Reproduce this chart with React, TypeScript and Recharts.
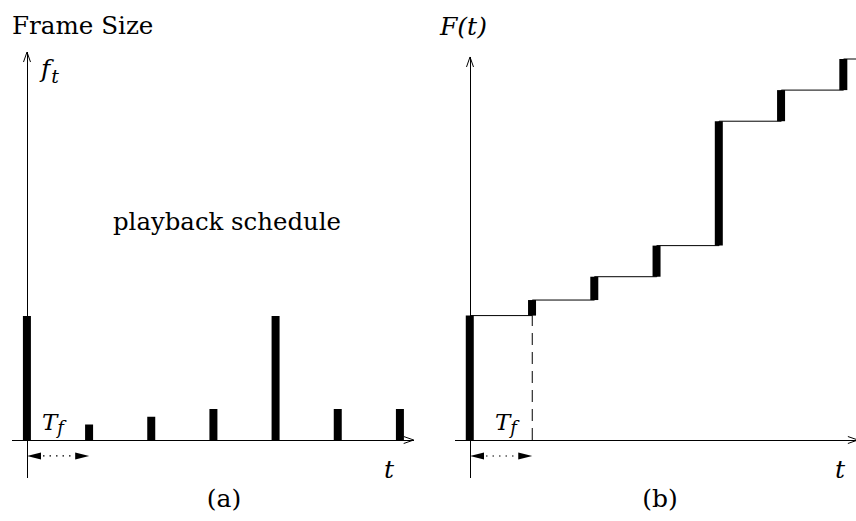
import { BarChart, ComposedChart, Bar, Line, XAxis, YAxis, ReferenceLine } from "recharts";

// frame index t (one tick = one frame period T_f)
const frameIndex = [0, 1, 2, 3, 4, 5, 6];
// playback schedule f_t: size of each frame
const frameSizes = [8, 1, 1.5, 2, 8, 2, 2];
// cumulative consumption F(t)
const cumulativeSizes = [8, 9, 10.5, 12.5, 20.5, 22.5, 24.5];
// F(t) stays flat after the last frame until the edge of the plot
const tailTime = 6.2;

const INK = "#000";
const textStyle = { fontFamily: "'DejaVu Serif', serif", fill: INK } as const;
const italicStyle = { ...textStyle, fontStyle: "italic" } as const;

const scheduleData = frameIndex.map((t, i) => ({ t, size: frameSizes[i] }));

const cumulativeData = [
    ...frameIndex.map((t, i) => ({
        t,
        F: cumulativeSizes[i],
        range: [i === 0 ? 0 : cumulativeSizes[i - 1], cumulativeSizes[i]],
    })),
    {
        t: tailTime,
        F: cumulativeSizes[cumulativeSizes.length - 1],
        range: [cumulativeSizes[cumulativeSizes.length - 1], cumulativeSizes[cumulativeSizes.length - 1]],
    },
];

// axis line with an open arrow head at its end
function AxisArrow(props: any) {
    const { x1, y1, x2, y2 } = props;
    const dx = x2 - x1;
    const dy = y2 - y1;
    const len = Math.hypot(dx, dy) || 1;
    const ux = dx / len;
    const uy = dy / len;
    const head = 10;
    const half = 3.5;
    const bx = x2 - ux * head;
    const by = y2 - uy * head;
    const px = -uy * half;
    const py = ux * half;
    return (
        <g>
            <line x1={x1} y1={y1} x2={x2} y2={y2} stroke={INK} strokeWidth={1} shapeRendering="crispEdges" />
            <polyline
                points={`${bx + px},${by + py} ${x2},${y2} ${bx - px},${by - py}`}
                fill="none"
                stroke={INK}
                strokeWidth={1}
            />
        </g>
    );
}

// double headed dotted arrow marking one frame period
function PeriodArrow(props: any) {
    const { x1, y1, x2 } = props;
    const head = 14;
    const half = 3.5;
    return (
        <g>
            <line x1={x1 + head + 2} y1={y1} x2={x2 - head - 2} y2={y1} stroke={INK} strokeWidth={1.2} strokeDasharray="1.5 5" />
            <polygon points={`${x1},${y1} ${x1 + head},${y1 - half} ${x1 + head},${y1 + half}`} fill={INK} />
            <polygon points={`${x2},${y1} ${x2 - head},${y1 - half} ${x2 - head},${y1 + half}`} fill={INK} />
        </g>
    );
}

function TfLabel({ x, y }: { x: number; y: number }) {
    return (
        <text x={x} y={y} style={{ ...italicStyle, fontSize: 23 }}>
            T
            <tspan dx={0} dy={4} style={{ fontSize: 18 }}>
                f
            </tspan>
        </text>
    );
}

export default function App() {
    return (
        <div style={{ position: "absolute", left: 0, top: 0, width: 856, height: 521, background: "#fff" }}>
            <div style={{ position: "absolute", left: 0, top: 0 }}>
                <BarChart width={430} height={521} data={scheduleData} margin={{ top: 316, right: 30, bottom: 81, left: 27 }}>
                    <XAxis dataKey="t" type="number" domain={[0, 6]} hide />
                    <YAxis type="number" domain={[0, 8]} hide />
                    <ReferenceLine segment={[{ x: 0, y: -2.45 }, { x: 0, y: 25.03 }]} ifOverflow="visible" shape={AxisArrow} />
                    <ReferenceLine segment={[{ x: -0.24, y: 0 }, { x: 6.22, y: 0 }]} ifOverflow="visible" shape={AxisArrow} />
                    <ReferenceLine segment={[{ x: 0, y: -1.03 }, { x: 1, y: -1.03 }]} ifOverflow="visible" shape={PeriodArrow} />
                    <Bar dataKey="size" fill={INK} barSize={8} isAnimationActive={false} />
                    <text x={12} y={34} style={{ ...textStyle, fontSize: 24.6 }}>
                        Frame Size
                    </text>
                    <text x={41} y={77} style={{ ...italicStyle, fontSize: 25 }}>
                        f
                        <tspan dx={1} dy={6} style={{ fontSize: 19 }}>
                            t
                        </tspan>
                    </text>
                    <text x={113} y={230} style={{ ...textStyle, fontSize: 24.4 }}>
                        playback schedule
                    </text>
                    <TfLabel x={42} y={430} />
                    <text x={384} y={478} style={{ ...italicStyle, fontSize: 25 }}>
                        t
                    </text>
                    <text x={224} y={507} textAnchor="middle" style={{ ...textStyle, fontSize: 25 }}>
                        (a)
                    </text>
                </BarChart>
            </div>
            <div style={{ position: "absolute", left: 430, top: 0 }}>
                <ComposedChart width={426} height={521} data={cumulativeData} margin={{ top: 59, right: 0, bottom: 81, left: 40 }}>
                    <XAxis dataKey="t" type="number" domain={[0, "dataMax"]} hide />
                    <YAxis type="number" domain={[0, 24.5]} hide />
                    <ReferenceLine segment={[{ x: 0, y: -2.44 }, { x: 0, y: 24.63 }]} ifOverflow="visible" shape={AxisArrow} />
                    <ReferenceLine segment={[{ x: -0.24, y: 0 }, { x: 6.23, y: 0 }]} ifOverflow="visible" shape={AxisArrow} />
                    <ReferenceLine segment={[{ x: 0, y: -1.03 }, { x: 1, y: -1.03 }]} ifOverflow="visible" shape={PeriodArrow} />
                    <ReferenceLine
                        segment={[{ x: 1, y: 0 }, { x: 1, y: cumulativeSizes[0] }]}
                        ifOverflow="visible"
                        stroke={INK}
                        strokeWidth={1}
                        strokeDasharray="12 7"
                    />
                    <Line
                        type="stepAfter"
                        dataKey="F"
                        stroke={INK}
                        strokeWidth={1}
                        dot={false}
                        activeDot={false}
                        isAnimationActive={false}
                    />
                    <Bar dataKey="range" fill={INK} barSize={8} isAnimationActive={false} />
                    <text x={10} y={35} style={{ ...italicStyle, fontSize: 25 }}>
                        F(t)
                    </text>
                    <TfLabel x={65} y={430} />
                    <text x={405} y={478} style={{ ...italicStyle, fontSize: 25 }}>
                        t
                    </text>
                    <text x={230} y={507} textAnchor="middle" style={{ ...textStyle, fontSize: 25 }}>
                        (b)
                    </text>
                </ComposedChart>
            </div>
        </div>
    );
}
